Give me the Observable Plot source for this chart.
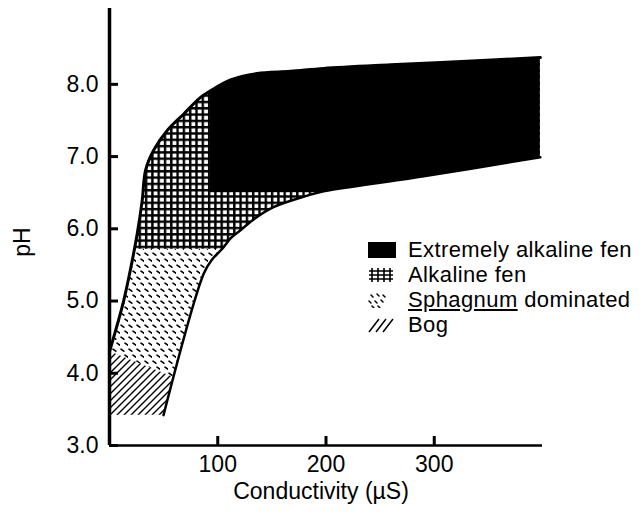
<!DOCTYPE html>
<html>
<head>
<meta charset="utf-8">
<script src="https://cdn.jsdelivr.net/npm/d3@7"></script>
<script src="https://cdn.jsdelivr.net/npm/@observablehq/plot@0.6"></script>
<style>
  html, body { margin: 0; padding: 0; background: white; }
  #wrap { position: relative; width: 642px; height: 514px; overflow: hidden; font-family: "Liberation Sans", Arial, sans-serif; }
  #legend { position: absolute; left: 368px; top: 237px; color: black; font-size: 22px; letter-spacing: 0.4px; white-space: nowrap; }
  .row { display: flex; align-items: center; height: 25px; }
  .row svg { flex: none; margin-right: 12px; }
  #ylab { position: absolute; left: 22px; top: 242px; font-size: 23px; transform: translate(-50%, -50%) rotate(-90deg); color: black; }
</style>
</head>
<body>
<div id="wrap"></div>
<script>
// ---- data ----
const xTicks = [100, 200, 300];
const yTicks = [3, 4, 5, 6, 7, 8];
const xLabel = "Conductivity (µS)";
const yLabel = "pH";
const legendLabels = ["Extremely alkaline fen", "Alkaline fen", "Sphagnum dominated", "Bog"];

// outline: left steep line + upper curve (conductivity, pH)
const upperEdge = [[0, 4.3], [13.2, 5.01], [21, 5.56], [25.6, 5.93], [30.2, 6.39], [33.3, 6.81], [40.9, 7.09],
  [53.3, 7.36], [68.6, 7.59], [84.1, 7.82], [93.3, 7.91], [111.8, 8.06], [136.4, 8.15], [167.2, 8.18],
  [198, 8.22], [259.6, 8.27], [330, 8.32], [398, 8.37]];
// outline: right steep line + lower curve
const lowerEdge = [[49.9, 3.42], [87.1, 5.38], [95, 5.58], [104, 5.72], [112, 5.87], [121, 5.98], [135, 6.15],
  [151.5, 6.30], [182.9, 6.46], [194.9, 6.51], [287.3, 6.72], [398, 6.99]];

// zones inside the outline: lower-left corner (conductivity, pH) of each zone
const zoneNames = ["Sphagnum dominated", "Alkaline fen", "Extremely alkaline fen"];
const zoneMinCond = [0, 0, 93.3];
const zoneMinPH = [3, 5.72, 6.5];
// upper limit of the bog zone
const bogTop = [[0, 4.3], [70, 3.88]];

const X = d => d[0], Y = d => d[1];
const zones = zoneNames.map((name, i) => ({name, c: zoneMinCond[i], p: zoneMinPH[i]}));
const zoneFill = {"Sphagnum dominated": "url(#sphagnum)", "Alkaline fen": "url(#crosshatch)", "Extremely alkaline fen": "black"};

const plot = Plot.plot({
  width: 642,
  height: 514,
  marginLeft: 109,
  marginRight: 100,
  marginTop: 8,
  marginBottom: 69,
  style: {fontFamily: "'Liberation Sans', Arial, sans-serif", fontSize: "23px", color: "black", background: "white"},
  x: {domain: [0, 400]},
  y: {domain: [3, 9.05]},
  marks: [
    Plot.rect(zones, {x1: d => d.c, x2: 400, y1: d => d.p, y2: 9.05, fill: d => zoneFill[d.name]}),
    Plot.areaY(bogTop, {x: X, y1: 3, y2: Y, fill: "url(#bog)", curve: "linear"}),
    Plot.rect(zones.slice(1), {x1: d => d.c, x2: 400, y1: d => d.p, y2: 9.05, fill: d => zoneFill[d.name]}),
    Plot.line(upperEdge, {x: X, y: Y, stroke: "black", strokeWidth: 3, curve: "catmull-rom"}),
    Plot.line(lowerEdge, {x: X, y: Y, stroke: "black", strokeWidth: 2.5, curve: "catmull-rom"}),
    Plot.ruleX([0], {stroke: "black", strokeWidth: 3.5}),
    Plot.ruleY([3], {stroke: "black", strokeWidth: 2.5}),
    Plot.axisX({ticks: xTicks, tickSize: 9, dy: -9, strokeWidth: 3, text: null, label: null}),
    Plot.axisX({ticks: xTicks, tickSize: 0, tickPadding: 10, label: null}),
    Plot.axisY({ticks: yTicks, tickSize: 9, dx: 9, strokeWidth: 3, text: null, label: null}),
    Plot.axisY({ticks: yTicks, tickSize: 0, tickPadding: 11, tickFormat: d => d.toFixed(1), label: null}),
    Plot.text([xLabel], {text: d => d, frameAnchor: "bottom", dx: -5, dy: 53, fontSize: 23})
  ]
});

const svg = d3.select(plot);
const defs = svg.insert("defs", ":first-child");

// clip all zone fills to the smooth outline
const sx = plot.scale("x"), sy = plot.scale("y");
const gen = d3.line().x(d => sx.apply(d[0])).y(d => sy.apply(d[1])).curve(d3.curveCatmullRom);
const outline = gen(upperEdge) + gen(lowerEdge.slice().reverse()).replace(/^M/, "L") +
  `L${sx.apply(upperEdge[0][0])},${sy.apply(lowerEdge[0][1])}Z`;
defs.append("clipPath").attr("id", "shape").append("path").attr("d", outline);
svg.selectAll('g[aria-label="rect"], g[aria-label="area"]').attr("clip-path", "url(#shape)");

// patterns
const ch = defs.append("pattern").attr("id", "crosshatch").attr("patternUnits", "userSpaceOnUse")
  .attr("width", 6.3).attr("height", 6.3);
ch.append("rect").attr("width", 6.3).attr("height", 6.3).attr("fill", "black");
ch.append("rect").attr("x", 2.4).attr("y", 2.4).attr("width", 3.9).attr("height", 3.9).attr("fill", "white");

const sp = defs.append("pattern").attr("id", "sphagnum").attr("patternUnits", "userSpaceOnUse")
  .attr("width", 8).attr("height", 12);
sp.append("rect").attr("width", 8).attr("height", 12).attr("fill", "white");
sp.append("path").attr("d", "M1,1.2 L3.8,3.2 M5,7.2 L7.8,9.2")
  .attr("stroke", "black").attr("stroke-width", 1.6).attr("stroke-linecap", "round").attr("fill", "none");

const bg = defs.append("pattern").attr("id", "bog").attr("patternUnits", "userSpaceOnUse")
  .attr("width", 7).attr("height", 7);
bg.append("rect").attr("width", 7).attr("height", 7).attr("fill", "white");
bg.append("path").attr("d", "M0,7 L7,0 M-1,1 L1,-1 M6,8 L8,6")
  .attr("stroke", "black").attr("stroke-width", 1.4).attr("fill", "none");

const wrap = document.getElementById("wrap");
wrap.appendChild(plot);

// y-axis title
const ylab = document.createElement("div");
ylab.id = "ylab";
ylab.textContent = yLabel;
wrap.appendChild(ylab);

// legend
const legend = document.createElement("div");
legend.id = "legend";
const swatches = [
  `<rect x="0" y="0" width="28" height="16" fill="black"/>`,
  `<path d="M4,1V15M10,1V15M16,1V15M22,1V15M1,4H25M1,8H25M1,12H25" stroke="black" stroke-width="1.6" fill="none"/>`,
  `<path d="M3,3L5,5M9,2L11,4M15,3L17,5M1,9L3,11M7,9L9,11M13,8L15,10M4,14L6,16M10,14L12,16" stroke="black" stroke-width="1.5" stroke-linecap="round" fill="none"/>`,
  `<path d="M1,15L11,2M8,15L18,2M15,15L25,2" stroke="black" stroke-width="1.5" fill="none"/>`
];
legendLabels.forEach((lab, i) => {
  const row = document.createElement("div");
  row.className = "row";
  let txt = lab;
  if (lab.startsWith("Sphagnum")) txt = `<span style="text-decoration:underline">Sphagnum</span>${lab.slice(8)}`;
  row.innerHTML = `<svg width="28" height="16" viewBox="0 0 28 16">${swatches[i]}</svg><span>${txt}</span>`;
  legend.appendChild(row);
});
wrap.appendChild(legend);
</script>
</body>
</html>
